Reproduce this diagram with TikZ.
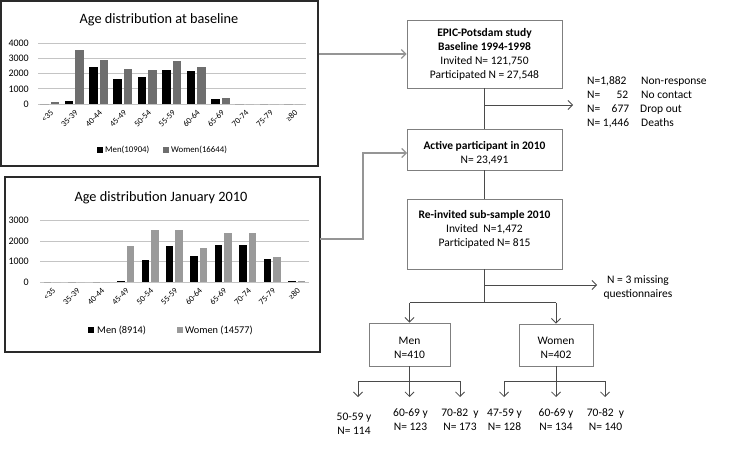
\documentclass[tikz,border=0pt]{standalone}
\usepackage{fontspec}
\setmainfont{Carlito}
\usetikzlibrary{arrows.meta}
\definecolor{boxgray}{HTML}{7F7F7F}
\definecolor{linegray}{HTML}{4A4A4A}
\definecolor{arrowgray}{HTML}{959595}
\definecolor{gridgray}{HTML}{C4C4C4}
\definecolor{womentop}{HTML}{6E6E6E}
\definecolor{womenbot}{HTML}{9A9A9A}
\definecolor{framecol}{HTML}{2A2A2A}
\begin{document}
\begin{tikzpicture}[x=1pt,y=-1pt,
  fbox/.style={draw=boxgray, line width=0.9pt, fill=white, align=center, inner sep=0pt,
    font=\fontsize{11.5}{14}\selectfont},
  ftext/.style={align=center, inner sep=0pt, font=\fontsize{11.5}{14}\selectfont},
  conn/.style={draw=linegray, line width=0.9pt},
  connarrow/.style={conn, -{Straight Barb[length=4.5pt,width=9pt,line width=0.8pt]}},
  garrow/.style={draw=arrowgray, line width=1.4pt, -{Straight Barb[length=4.5pt,width=9pt,line width=1.1pt]}},
  frame/.style={draw=framecol, line width=1.1pt, inner sep=0pt},
  ctitle/.style={inner sep=0pt, font=\fontsize{14.3}{16}\selectfont},
  ylab/.style={inner sep=0pt, anchor=east, font=\fontsize{10}{12}\selectfont},
  xlab/.style={inner sep=0pt, anchor=east, rotate=45, font=\fontsize{8.5}{9}\selectfont},
  leg/.style={inner sep=0pt, anchor=west},
  grid line/.style={draw=gridgray, line width=0.7pt}
]
\useasboundingbox (0,0) rectangle (740,455);
\fill[white] (0,0) rectangle (740,455);

% ================= top chart =================
\node[frame, minimum width=317pt, minimum height=165pt] (c1) at (159.5,83.5) {};
\node[ctitle] (t1) at (159,20) {Age distribution at baseline};
\foreach \k/\v in {0/0,1/1000,2/2000,3/3000,4/4000} {
  \draw[grid line] (38,104-15.2*\k) -- (306,104-15.2*\k);
  \node[ylab] (ya\k) at (29,104-15.2*\k) {\v};
}
\foreach \i/\m/\w in {1/0/100, 2/200/3550, 3/2450/2900, 4/1660/2280, 5/1750/2210,
                      6/2240/2830, 7/2170/2430, 8/350/410, 9/0/0, 10/0/0, 11/0/0} {
  \pgfmathsetmacro\c{38+24.4*(\i-0.5)}
  \fill[black] (\c-10,104) rectangle (\c-1.5,104-0.0152*\m);
  \fill[womentop] (\c+0.5,104) rectangle (\c+9,104-0.0152*\w);
}
\foreach \i/\t in {1/{<35},2/35-39,3/40-44,4/45-49,5/50-54,6/55-59,7/60-64,8/65-69,9/70-74,10/75-79,11/{≥80}} {
  \pgfmathsetmacro\c{38+24.4*(\i-0.5)}
  \node[xlab] (xa\i) at (\c+2,111) {\t};
}
\fill[black] (97,146.5) rectangle (103,152.5);
\node[leg, font=\fontsize{8.8}{10}\selectfont] (la1) at (105,150) {Men(10904)};
\fill[womentop] (163,146.5) rectangle (169,152.5);
\node[leg, font=\fontsize{8.8}{10}\selectfont] (la2) at (171,150) {Women(16644)};

% ================= bottom chart =================
\node[frame, minimum width=315pt, minimum height=175pt] (c2) at (162.5,264.5) {};
\node[ctitle] (t2) at (161,198) {Age distribution January 2010};
\foreach \k/\v in {0/0,1/1000,2/2000,3/3000} {
  \draw[grid line] (40,282-20.5*\k) -- (309,282-20.5*\k);
  \node[ylab] (yb\k) at (29,282-20.5*\k) {\v};
}
\foreach \i/\m/\w in {1/0/0, 2/0/0, 3/0/0, 4/50/1750, 5/1070/2530, 6/1750/2530,
                      7/1270/1680, 8/1800/2400, 9/1800/2400, 10/1120/1220, 11/50/30} {
  \pgfmathsetmacro\c{40+24.45*(\i-0.5)}
  \fill[black] (\c-8.5,282) rectangle (\c-1,282-0.0205*\m);
  \fill[womenbot] (\c+1,282) rectangle (\c+8.5,282-0.0205*\w);
}
\foreach \i/\t in {1/{<35},2/35-39,3/40-44,4/45-49,5/50-54,6/55-59,7/60-64,8/65-69,9/70-74,10/75-79,11/{≥80}} {
  \pgfmathsetmacro\c{40+24.45*(\i-0.5)}
  \node[xlab] (xb\i) at (\c+2,289) {\t};
}
\fill[black] (88,327) rectangle (94,333);
\node[leg, font=\fontsize{10.3}{12}\selectfont] (lb1) at (97,330) {Men (8914)};
\fill[womenbot] (177,327) rectangle (183,333);
\node[leg, font=\fontsize{10.3}{12}\selectfont] (lb2) at (185,330) {Women (14577)};

% ================= flowchart =================
\node[fbox, minimum width=155pt, minimum height=68pt] (b1) at (484.5,54)
  {\textbf{EPIC-Potsdam study}\\\textbf{Baseline 1994-1998}\\Invited N= 121,750\\Participated N = 27,548};
\node[fbox, minimum width=155pt, minimum height=41pt] (b2) at (484.5,149.5) {};
\node[ftext] (b2t) at (484.5,153.5) {\textbf{Active participant in 2010}\\N= 23,491};
\node[fbox, minimum width=155pt, minimum height=70pt] (b3) at (484.5,234) {};
\node[ftext] (b3t) at (484.5,229) {\textbf{Re-invited sub-sample 2010}\\Invited\ \ N=1,472\\Participated N= 815};

\node[fbox, minimum width=81pt, minimum height=43pt] (men) at (409.5,344.5) {};
\node[ftext] (ment) at (409.5,347.5) {Men\\N=410};
\node[fbox, minimum width=74pt, minimum height=42pt] (women) at (556,345) {};
\node[ftext] (woment) at (556,348) {Women\\N=402};

% side texts
\node[inner sep=0pt, anchor=west, align=left, font=\fontsize{11.5}{14}\selectfont] (drop) at (587,102)
  {\makebox[54pt][l]{\makebox[41pt][l]{N=1,882}}Non-response\\
   \makebox[54pt][l]{\makebox[41pt][l]{N=\hfill 52}}No contact\\
   \makebox[53pt][l]{\makebox[42pt][l]{N=\hfill 677}}Drop out\\
   \makebox[54pt][l]{\makebox[44pt][l]{N= 1,446}}Deaths};
\node[ftext] (miss) at (638,287.5) {N = 3 missing\\questionnaires};

% chart arrows
\coordinate (c2out) at (320,239);
\coordinate (b2in) at (407,153);
\draw[garrow] (c1.east |- b1.west) -- (b1.west);
\draw[garrow] (c2out) -- (363,239) |- (b2in);

% connectors
\coordinate (j1) at (484.5,105);
\coordinate (j1e) at (573,105);
\draw[conn] (b1.south) -- (b2.north);
\draw[connarrow] (j1) -- (j1e);
\draw[conn] (b2.south) -- (b3.north);
\coordinate (j2) at (484.5,302.5);
\coordinate (j3) at (484.5,285);
\coordinate (j3e) at (597,285);
\draw[conn] (b3.south) -- (j2);
\draw[connarrow] (j3) -- (j3e);
\draw[conn] (j2) -- (men.north |- j2);
\draw[conn] (j2) -- (women.north |- j2);
\draw[connarrow] (men.north |- j2) -- (men.north);
\draw[connarrow] (women.north |- j2) -- (women.north);

% age group labels
\node[ftext] (m1) at (354,424) {50-59 y\\N= 114};
\node[ftext] (m2) at (410.5,420) {60-69 y\\N= 123};
\node[ftext] (m3) at (460,420) {70-82\ \ y\\N= 173};
\node[ftext] (w1) at (504.5,420) {47-59 y\\N= 128};
\node[ftext] (w2) at (556,420) {60-69 y\\N= 134};
\node[ftext] (w3) at (605.5,420) {70-82\ \ y\\N= 140};

\coordinate (mj) at (409.5,381);
\coordinate (wj) at (556,381);
\draw[conn] (men.south) -- (mj);
\draw[conn] (women.south) -- (wj);
\draw[conn] (358,381) -- (460,381);
\draw[conn] (504,381) -- (605,381);
\foreach \x in {358, 409.5, 460} {
  \draw[connarrow] (\x,381) -- (\x,397);
}
\foreach \x in {504, 556, 605} {
  \draw[connarrow] (\x,381) -- (\x,397);
}
\end{tikzpicture}
\end{document}
